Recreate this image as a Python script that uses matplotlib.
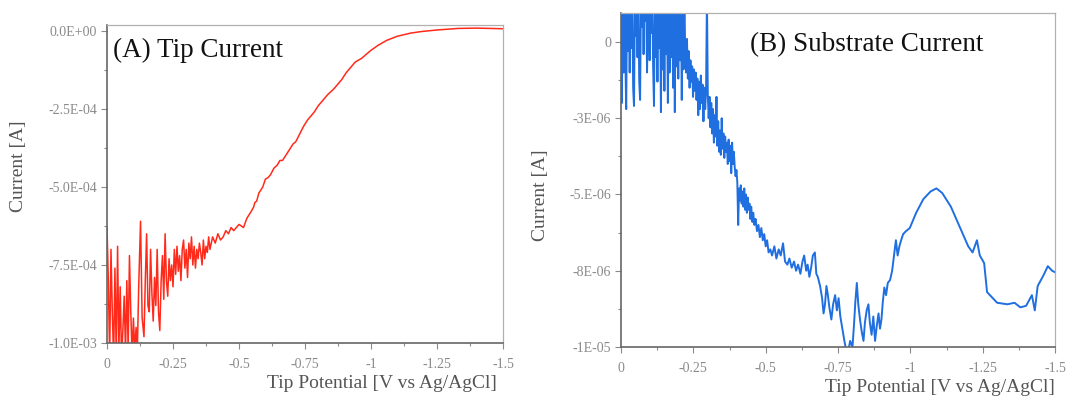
import matplotlib.pyplot as plt
from matplotlib.ticker import FixedLocator, MultipleLocator

plt.rcParams['font.family'] = ['Liberation Serif', 'DejaVu Serif']

# ---- data ----
# (A) tip current, potential in V, current in 1e-4 A
tip_v = [0.000, -0.005, -0.010, -0.015, -0.020, -0.025, -0.030, -0.035, -0.040, -0.045,
         -0.050, -0.055, -0.060, -0.065, -0.070, -0.075, -0.080, -0.085, -0.090, -0.095,
         -0.100, -0.105, -0.110, -0.115, -0.120, -0.127, -0.133, -0.140, -0.145, -0.150,
         -0.155, -0.160, -0.165, -0.170, -0.175, -0.180, -0.185, -0.190, -0.195, -0.200,
         -0.205, -0.210, -0.215, -0.220, -0.225, -0.230, -0.235, -0.240, -0.245, -0.250,
         -0.255, -0.260, -0.265, -0.270, -0.275, -0.280, -0.285, -0.290, -0.295, -0.300,
         -0.305, -0.310, -0.315, -0.320, -0.325, -0.330, -0.335, -0.340, -0.345, -0.350,
         -0.355, -0.360, -0.365, -0.370, -0.375, -0.380, -0.385, -0.390, -0.395, -0.400,
         -0.410, -0.420, -0.430, -0.440, -0.450, -0.460, -0.470, -0.480, -0.490, -0.500,
         -0.517, -0.530, -0.545, -0.555, -0.560, -0.567, -0.575, -0.590, -0.600, -0.610,
         -0.620, -0.632, -0.645, -0.655, -0.665, -0.680, -0.695, -0.705, -0.715, -0.730,
         -0.745, -0.760, -0.775, -0.785, -0.800, -0.820, -0.835, -0.860, -0.875, -0.890,
         -0.905, -0.925, -0.940, -0.964, -1.000, -1.027, -1.060, -1.100,
         -1.150, -1.190, -1.250, -1.330, -1.400, -1.450, -1.500]
tip_i = [-6.3, -8.0, -10.5, -7.0, -9.0, -10.5, -7.6, -10.5, -6.9, -10.2,
         -8.2, -10.5, -9.6, -8.5, -10.3, -8.0, -10.2, -7.2, -9.0, -10.4,
         -9.2, -10.3, -9.5, -10.2, -8.2, -6.1, -9.2, -9.8, -8.0, -6.5,
         -8.8, -9.0, -7.0, -8.4, -9.3, -7.9, -8.8, -7.0, -9.0, -9.6,
         -8.0, -7.2, -8.6, -6.5, -8.0, -8.5, -7.3, -8.0, -7.5, -8.2,
         -7.0, -7.8, -6.9, -7.7, -7.2, -8.0, -7.0, -6.7, -7.6, -7.0,
         -7.9, -6.8, -7.3, -6.6, -7.5, -6.9, -7.6, -7.0, -7.3, -6.8,
         -7.1, -7.5, -6.7, -7.3, -6.9, -7.1, -6.6, -7.0, -6.8, -6.6,
         -6.8, -6.5, -6.7, -6.6, -6.4, -6.5, -6.3, -6.4, -6.3, -6.2,
         -6.3, -6.0, -5.8, -5.65, -5.5, -5.45, -5.2, -5.0, -4.75, -4.7,
         -4.6, -4.4, -4.3, -4.15, -4.15, -3.95, -3.75, -3.62, -3.55, -3.3,
         -3.05, -2.85, -2.7, -2.6, -2.4, -2.2, -2.05, -1.85, -1.7, -1.55,
         -1.35, -1.15, -1.0, -0.88, -0.62, -0.46, -0.3, -0.17,
         -0.07, -0.02, 0.03, 0.08, 0.09, 0.08, 0.07]

# (B) substrate current, potential in V, current in 1e-6 A
sub_v = [0.000, -0.003, -0.006, -0.009, -0.012, -0.015, -0.018, -0.021, -0.024, -0.027,
         -0.030, -0.033, -0.036, -0.039, -0.042, -0.045, -0.048, -0.051, -0.054, -0.057,
         -0.060, -0.063, -0.066, -0.069, -0.072, -0.075, -0.078, -0.081, -0.084, -0.087,
         -0.090, -0.093, -0.096, -0.099, -0.102, -0.105, -0.108, -0.111, -0.114, -0.117,
         -0.120, -0.123, -0.126, -0.129, -0.132, -0.135, -0.138, -0.141, -0.144, -0.147,
         -0.150, -0.153, -0.156, -0.159, -0.162, -0.165, -0.168, -0.171, -0.174, -0.177,
         -0.180, -0.183, -0.186, -0.189, -0.192, -0.195, -0.198, -0.201, -0.204, -0.207,
         -0.210, -0.213, -0.216, -0.219, -0.222, -0.225, -0.228, -0.231, -0.234, -0.237,
         -0.240, -0.243, -0.246, -0.249, -0.252, -0.255, -0.258, -0.261, -0.264, -0.267,
         -0.270, -0.273, -0.276, -0.279, -0.282, -0.285, -0.288, -0.291, -0.294, -0.297,
         -0.300, -0.303, -0.306, -0.309, -0.312, -0.315, -0.318, -0.321, -0.324, -0.327,
         -0.330, -0.333, -0.336, -0.339, -0.342, -0.345, -0.348, -0.351, -0.354, -0.357,
         -0.360, -0.363, -0.366, -0.369, -0.372, -0.375, -0.378, -0.381, -0.384, -0.387,
         -0.390, -0.393, -0.396, -0.399, -0.402, -0.405, -0.408, -0.411, -0.414, -0.417,
         -0.420, -0.423, -0.426, -0.429, -0.432, -0.435, -0.438, -0.441, -0.444, -0.447,
         -0.450, -0.454, -0.457, -0.461, -0.465, -0.470, -0.475, -0.480, -0.485, -0.490,
         -0.495, -0.500, -0.505, -0.510, -0.516, -0.522, -0.530, -0.537, -0.545, -0.552,
         -0.560, -0.567, -0.575, -0.582, -0.590, -0.598, -0.605, -0.612, -0.620, -0.627,
         -0.633, -0.640, -0.645, -0.651, -0.657, -0.663, -0.670, -0.675, -0.680, -0.688,
         -0.695, -0.700, -0.705, -0.710, -0.715, -0.720, -0.727, -0.733, -0.740, -0.746,
         -0.752, -0.758, -0.765, -0.772, -0.780, -0.786, -0.792, -0.800, -0.805, -0.810,
         -0.815, -0.820, -0.826, -0.832, -0.838, -0.843, -0.849, -0.855, -0.860, -0.866,
         -0.872, -0.878, -0.884, -0.890, -0.895, -0.900, -0.905, -0.910, -0.916, -0.922,
         -0.930, -0.937, -0.945, -0.950, -0.956, -0.962, -0.968, -0.975, -0.985, -0.998,
         -1.020, -1.045, -1.070, -1.090, -1.110, -1.140, -1.170, -1.200, -1.215, -1.230,
         -1.240, -1.255, -1.265, -1.280, -1.300, -1.335, -1.360, -1.380, -1.400, -1.420,
         -1.430, -1.440, -1.460, -1.475, -1.490, -1.500]
sub_i = [1.5, -2.0, 1.5, -1.0, 1.5, -0.5, -2.2, 1.5, -0.3, 1.5,
         -1.0, 1.5, -0.2, 1.5, -1.5, -2.1, 1.5, 0.2, 1.5, -0.5,
         1.5, -1.3, -1.9, 1.5, 0.5, 1.5, -0.4, 1.5, 0.7, 1.5,
         -1.0, 0.9, 1.5, -0.6, 1.5, 0.3, 1.5, -0.8, -2.1, 1.5,
         -0.5, 1.5, -1.3, 1.5, -0.2, 1.5, -2.3, 1.5, -0.9, 1.5,
         -1.6, 1.5, -0.4, 1.5, -2.0, 1.5, -1.0, 1.5, -0.5, 1.5,
         -1.5, 1.5, -2.3, 1.5, -0.8, 1.5, -1.2, 1.5, -0.6, 1.5,
         -1.9, 1.5, -0.9, 1.5, -0.4, -1.0, 0.1, -1.2, -0.3, -1.5,
         -0.6, -1.3, -0.8, -1.8, -0.9, -1.6, -1.0, -1.9, -1.2, -2.4,
         -1.3, -2.2, -1.1, -2.0, -1.4, -2.6, -1.5, -2.2, -1.6, 1.5,
         -1.7, -2.5, -1.8, -2.8, -2.0, -3.0, -2.2, -3.3, -2.4, -3.1,
         -1.8, -3.4, -2.6, -3.6, -2.9, -3.7, -2.5, -3.5, -3.0, -3.8,
         -3.1, -3.6, -3.3, -4.0, -3.2, -3.9, -3.4, -4.3, -3.3, -4.0,
         -3.6, -4.1, -4.4, -4.2, -4.6, -6.0, -4.8, -5.2, -4.7, -5.3,
         -4.9, -5.4, -4.8, -5.5, -5.0, -5.6, -5.1, -5.5, -5.3, -5.8,
         -5.4, -5.9, -5.6, -6.0, -5.8, -6.2, -6.0, -6.4, -6.1, -6.5,
         -6.3, -6.7, -6.5, -6.9, -6.8, -7.0, -6.7, -7.1, -6.8, -7.0,
         -6.6, -7.2, -7.3, -7.1, -7.4, -7.2, -7.5, -7.3, -7.6, -7.2,
         -7.0, -7.5, -7.3, -7.7, -7.4, -7.0, -6.9, -7.6, -7.7, -8.0,
         -8.4, -8.9, -8.6, -8.0, -8.3, -8.7, -9.1, -8.6, -8.3, -8.8,
         -8.4, -9.0, -9.4, -9.8, -10.2, -10.1, -9.8, -10.0, -9.3, -8.5,
         -7.9, -8.6, -9.1, -9.5, -9.8, -9.2, -8.8, -8.6, -9.2, -9.6,
         -9.0, -9.8, -9.3, -8.9, -9.4, -9.1, -8.5, -8.05, -8.3, -7.9,
         -7.8, -7.5, -6.9, -6.5, -7.0, -6.7, -6.5, -6.3, -6.2, -6.1,
         -5.6, -5.15, -4.9, -4.8, -4.95, -5.4, -6.05, -6.7, -6.9, -6.5,
         -7.0, -7.25, -8.2, -8.35, -8.55, -8.6, -8.55, -8.7, -8.65, -8.3,
         -8.8, -8.0, -7.65, -7.35, -7.5, -7.55]

tip_yticks = [0.0, -2.5e-4, -5.0e-4, -7.5e-4, -1.0e-3]
tip_ylabels = ['0.0E+00', '-2.5E-04', '-5.0E-04', '-7.5E-04', '-1.0E-03']
sub_yticks = [0.0, -2.5e-6, -5.0e-6, -7.5e-6, -1.0e-5]
sub_ylabels = ['0', '-3E-06', '-5.E-06', '-8E-06', '-1E-05']
xticks = [0, -0.25, -0.5, -0.75, -1.0, -1.25, -1.5]
xlabels = ['0', '-0.25', '-0.5', '-0.75', '-1', '-1.25', '-1.5']

fig = plt.figure(figsize=(10.67, 4.0), dpi=100)
ax1 = fig.add_axes([0.1003, 0.1425, 0.3711, 0.795])
ax2 = fig.add_axes([0.582, 0.1325, 0.4068, 0.835])

ax1.plot(tip_v, [v * 1e-4 for v in tip_i], color='#ff2a1a', lw=1.1)
ax2.plot(sub_v, [v * 1e-6 for v in sub_i], color='#1f6fe0', lw=1.4)

ax1.set_ylim(-1.0e-3, 1.9e-5)
ax2.set_ylim(-1.0e-5, 9.5e-7)

grey = '#8a8a8a'
for ax, yt, yl, my in [(ax1, tip_yticks, tip_ylabels, 1.25e-4),
                       (ax2, sub_yticks, sub_ylabels, 1.25e-6)]:
    ax.set_xlim(0, -1.5)
    ax.xaxis.set_major_locator(FixedLocator(xticks))
    ax.set_xticklabels(xlabels)
    ax.xaxis.set_minor_locator(MultipleLocator(0.125))
    ax.yaxis.set_major_locator(FixedLocator(yt))
    ax.set_yticklabels(yl)
    ax.yaxis.set_minor_locator(MultipleLocator(my))
    ax.tick_params(which='both', direction='out', color=grey, labelcolor=grey,
                   labelsize=10, width=0.8)
    ax.tick_params(which='major', length=4)
    ax.tick_params(which='minor', length=2.5)
    ax.tick_params(axis='x', pad=7)
    ax.tick_params(axis='y', pad=3)
    for side in ['top', 'right']:
        ax.spines[side].set_color('#b0b0b0')
        ax.spines[side].set_linewidth(0.9)
    for side in ['left', 'bottom']:
        ax.spines[side].set_color('#666666')
        ax.spines[side].set_linewidth(1.2)

ax1.text(0.015, 0.92, '(A) Tip Current', transform=ax1.transAxes,
         fontsize=19.5, va='center', ha='left', color='#111111')
ax2.text(0.567, 0.905, '(B) Substrate Current', transform=ax2.transAxes,
         fontsize=19.5, va='center', ha='center', color='#111111')

fig.text(497 / 1067, 1 - 383 / 400, 'Tip Potential [V vs Ag/AgCl]', ha='right',
         va='center', fontsize=14, color='#555555')
fig.text(1055 / 1067, 1 - 388 / 400, 'Tip Potential [V vs Ag/AgCl]', ha='right',
         va='center', fontsize=14, color='#555555')
fig.text(19 / 1067, 1 - 166 / 400, 'Current [A]', rotation=90, ha='center',
         va='center', fontsize=14, color='#555555')
fig.text(540 / 1067, 1 - 195 / 400, 'Current [A]', rotation=90, ha='center',
         va='center', fontsize=14, color='#555555')

plt.savefig('out.png', dpi=100)
